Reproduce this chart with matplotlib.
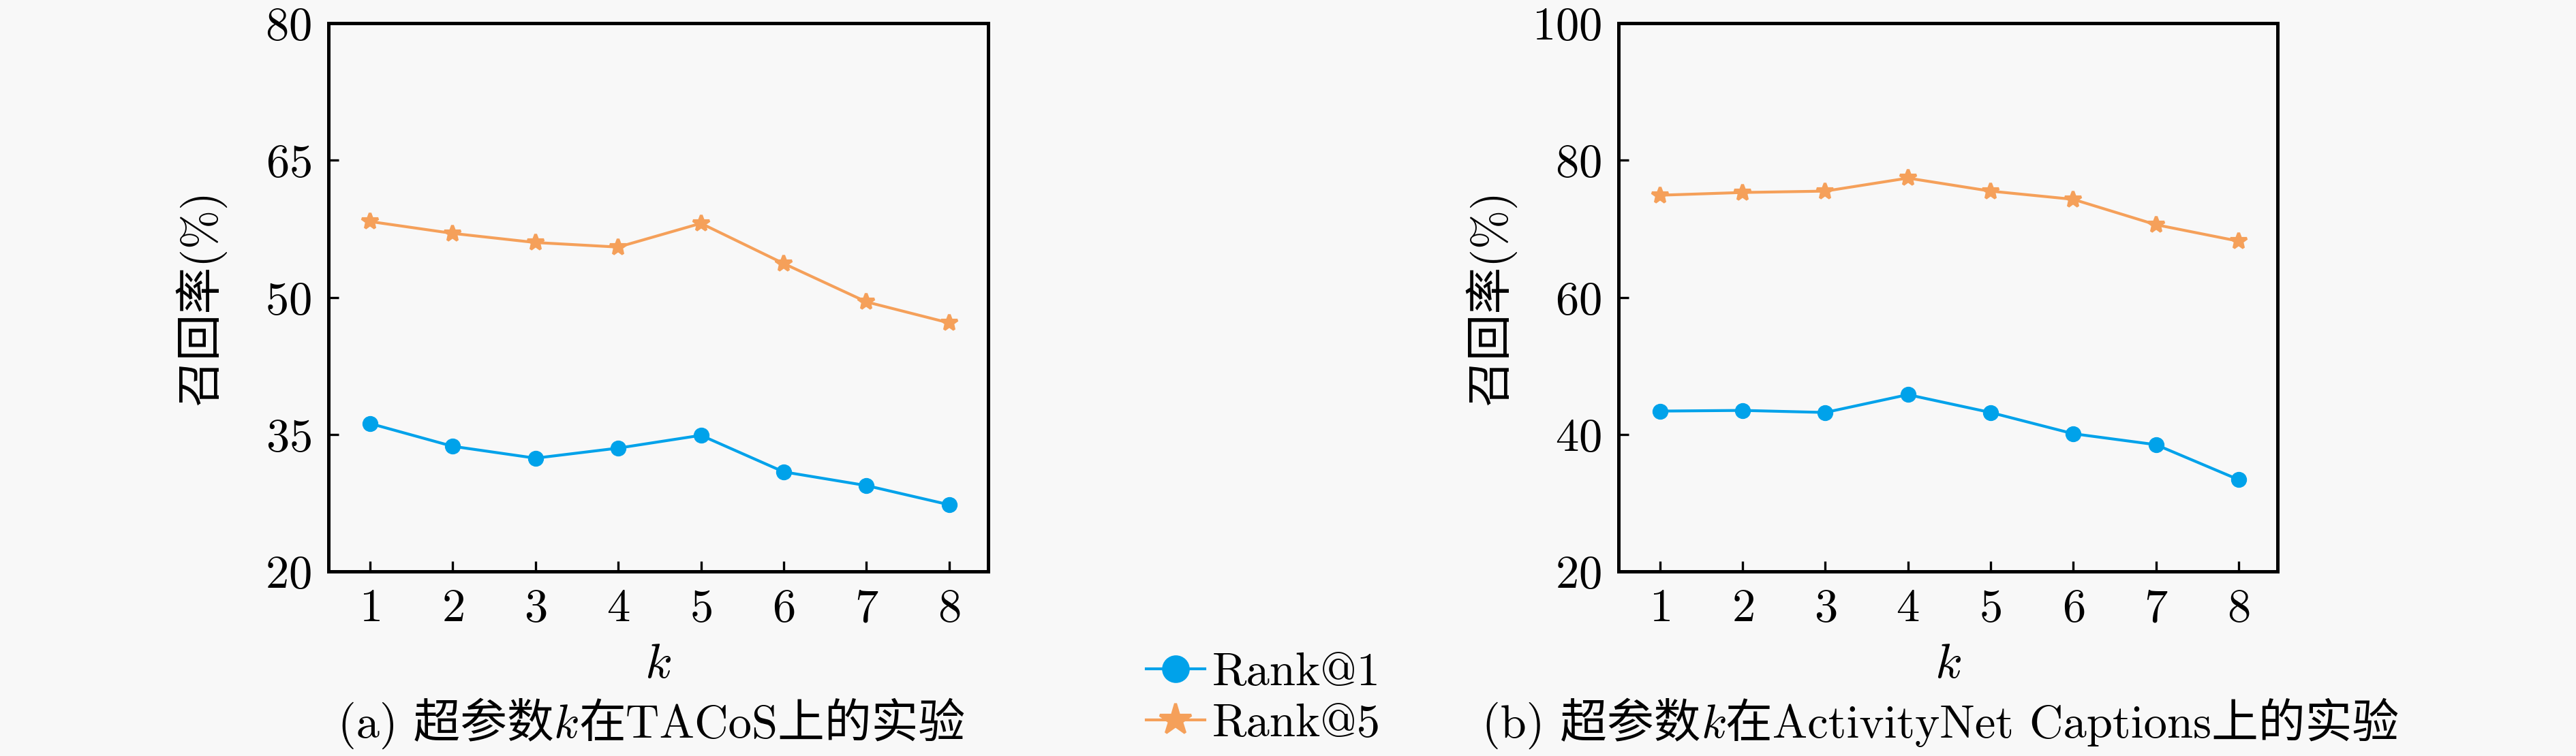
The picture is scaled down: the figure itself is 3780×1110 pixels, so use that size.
import matplotlib
matplotlib.use('Agg')
import matplotlib.pyplot as plt
from matplotlib.offsetbox import TextArea, HPacker, AnchoredOffsetbox

plt.rcParams['mathtext.fontset'] = 'cm'
plt.rcParams['axes.formatter.use_mathtext'] = True
plt.rcParams['font.family'] = ['cmr10', 'Noto Sans CJK SC']
plt.rcParams['axes.unicode_minus'] = False

# data
k = [1, 2, 3, 4, 5, 6, 7, 8]
tacos_r1 = [36.2, 33.7, 32.4, 33.5, 34.9, 30.9, 29.4, 27.3]
tacos_r5 = [58.3, 57.0, 56.0, 55.5, 58.1, 53.7, 49.5, 47.2]
anet_r1 = [43.4, 43.5, 43.2, 45.8, 43.2, 40.1, 38.5, 33.4]
anet_r5 = [74.9, 75.3, 75.5, 77.4, 75.5, 74.3, 70.6, 68.2]
tacos_yticks = [20, 35, 50, 65, 80]
anet_yticks = [20, 40, 60, 80, 100]
labels = ['Rank@1', 'Rank@5']

blue = '#00a2ea'
orange = '#f5a05a'
bg = '#f8f8f8'
fs = 16.5
fam = ['cmr10', 'Noto Sans CJK SC']

fig = plt.figure(figsize=(12.6, 3.7), dpi=300, facecolor=bg)
ax1 = fig.add_axes([0.1275, 0.2441, 0.2561, 0.7252])
ax2 = fig.add_axes([0.6283, 0.2441, 0.2558, 0.7252])


def draw(ax, r1, r5, yticks):
    ax.set_facecolor(bg)
    ax.plot(k, r1, color=blue, marker='o', markersize=4.6, linewidth=1.0, label=labels[0])
    ax.plot(k, r5, color=orange, marker='*', markersize=6, linewidth=1.0, label=labels[1])
    ax.set_xlim(0.5, 8.47)
    ax.set_ylim(yticks[0], yticks[-1])
    ax.set_xticks(k)
    ax.set_yticks(yticks)
    ax.tick_params(direction='in', length=3.6, width=0.8, labelsize=fs, pad=6,
                   top=False, right=False)
    for s in ax.spines.values():
        s.set_linewidth(1.2)
    ax.set_xlabel('$k$', fontsize=fs + 1)
    ax.xaxis.set_label_coords(0.5, -0.171)
    ax.xaxis.label.set_va('center')
    ax.set_ylabel('召回率(%)', fontsize=fs, family=fam)
    ax.yaxis.set_label_coords(-0.195, 0.5)
    ax.yaxis.label.set_va('center')
    ax.yaxis.label.set_ha('center')


draw(ax1, tacos_r1, tacos_r5, tacos_yticks)
draw(ax2, anet_r1, anet_r5, anet_yticks)


def caption(x, pre, post):
    tp = dict(family=fam, size=fs)
    parts = [TextArea(pre, textprops=tp),
             TextArea('$k$', textprops=dict(size=fs)),
             TextArea(post, textprops=tp)]
    box = HPacker(children=parts, align='baseline', pad=0, sep=0)
    ab = AnchoredOffsetbox(loc='center', child=box, pad=0, borderpad=0, frameon=False,
                           bbox_to_anchor=(x, 0.0432), bbox_transform=fig.transFigure)
    fig.add_artist(ab)


caption(0.2529, '(a) 超参数', '在TACoS上的实验')
caption(0.7534, '(b) 超参数', '在ActivityNet Captions上的实验')

handles, labs = ax1.get_legend_handles_labels()
fig.legend(handles, labs, loc='center left', bbox_to_anchor=(0.445, 0.0757),
           frameon=False, handlelength=1.25, handletextpad=0.15, labelspacing=0.2,
           borderpad=0, borderaxespad=0, markerscale=1.9, prop=dict(family=fam, size=fs))

fig.savefig('out.png', dpi=300, facecolor=bg)
